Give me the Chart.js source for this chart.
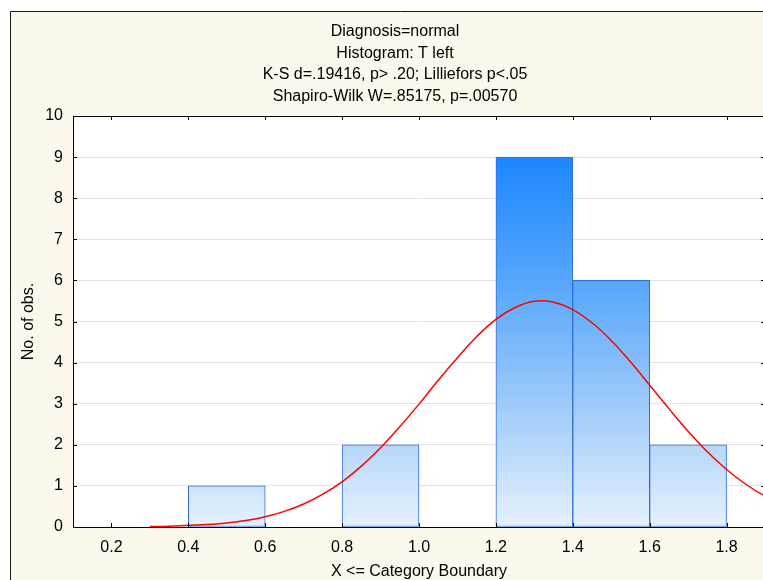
<!DOCTYPE html>
<html>
<head>
<meta charset="utf-8">
<script src="https://cdn.jsdelivr.net/npm/chart.js@4"></script>
<style>
  body { margin: 0; overflow: hidden; background: #fff; }
  #wrap { position: relative; width: 790px; height: 580px; }
</style>
</head>
<body>
<div id="wrap"><canvas id="histChart" width="790" height="580"></canvas></div>
<script>
// histogram bins (centre of each 0.2 wide class) and counts
const binCenters = [0.5, 0.9, 1.3, 1.5, 1.7];
const binCounts = [1, 2, 9, 6, 2];

// fitted normal curve
const curveX = [0.30, 0.35, 0.40, 0.45, 0.50, 0.55, 0.60, 0.65, 0.70, 0.75, 0.80, 0.85, 0.90, 0.95,
                1.00, 1.05, 1.10, 1.15, 1.20, 1.25, 1.30, 1.35, 1.40, 1.45, 1.50, 1.55, 1.60, 1.65,
                1.70, 1.75, 1.80, 1.85, 1.90, 1.95, 2.00];
const curveY = [0.01, 0.02, 0.04, 0.06, 0.10, 0.16, 0.25, 0.38, 0.56, 0.80, 1.10, 1.48, 1.93, 2.44,
                2.99, 3.57, 4.12, 4.63, 5.05, 5.34, 5.49, 5.47, 5.29, 4.97, 4.54, 4.02, 3.45, 2.88,
                2.33, 1.83, 1.40, 1.04, 0.75, 0.52, 0.35];

const xTickValues = [0.2, 0.4, 0.6, 0.8, 1.0, 1.2, 1.4, 1.6, 1.8];
const yTickValues = [0, 1, 2, 3, 4, 5, 6, 7, 8, 9, 10];

const titleLines = [
    'Diagnosis=normal',
    'Histogram: T left',
    'K-S d=.19416, p> .20; Lilliefors p<.05',
    'Shapiro-Wilk W=.85175, p=.00570'
];

const fontFamily = "'Liberation Sans', Arial, sans-serif";
const fontSize = 16;

// frame, cream background, title, plot border and inward ticks
const framePlugin = {
    id: 'frame',
    beforeDraw(chart) {
        const c = chart.ctx;
        const a = chart.chartArea;
        c.save();
        c.fillStyle = '#ffffff';
        c.fillRect(0, 0, chart.width, chart.height);
        c.fillStyle = '#fdf8ed';
        c.fillRect(10, 11, chart.width, chart.height);
        c.strokeStyle = '#1a1a1a';
        c.lineWidth = 1;
        c.beginPath();
        c.moveTo(10.5, chart.height);
        c.lineTo(10.5, 11.5);
        c.lineTo(chart.width, 11.5);
        c.stroke();
        c.fillStyle = '#ffffff';
        c.fillRect(a.left, a.top, a.right - a.left, a.bottom - a.top);

        // title block, centred on the whole graph window
        c.fillStyle = '#000';
        c.font = fontSize + 'px ' + fontFamily;
        c.textAlign = 'center';
        c.textBaseline = 'middle';
        titleLines.forEach((line, i) => {
            c.fillText(line, 395, 31.5 + i * 21.6);
        });
        c.restore();
    },
    afterDraw(chart) {
        const c = chart.ctx;
        const a = chart.chartArea;
        const xs = chart.scales.x;
        const ys = chart.scales.y;
        c.save();
        c.strokeStyle = '#000';
        c.lineWidth = 1;
        c.strokeRect(Math.round(a.left) + 0.5, Math.round(a.top) + 0.5,
            Math.round(a.right - a.left), Math.round(a.bottom - a.top));
        c.beginPath();
        yTickValues.forEach(v => {
            const py = Math.round(ys.getPixelForValue(v)) + 0.5;
            c.moveTo(a.left, py); c.lineTo(a.left + 4, py);
            c.moveTo(a.right - 4, py); c.lineTo(a.right, py);
        });
        xTickValues.forEach(v => {
            const px = Math.round(xs.getPixelForValue(v)) + 0.5;
            c.moveTo(px, a.bottom); c.lineTo(px, a.bottom - 4);
            c.moveTo(px, a.top); c.lineTo(px, a.top + 4);
        });
        c.stroke();
        c.restore();
    }
};

function barGradient(context) {
    const chart = context.chart;
    const a = chart.chartArea;
    if (!a) return '#8ec3fb';
    const g = chart.ctx.createLinearGradient(0, a.top, 0, a.bottom);
    g.addColorStop(0, '#0a7cff');
    g.addColorStop(0.1, '#1c86ff');
    g.addColorStop(0.42, '#5aa8fb');
    g.addColorStop(0.8, '#b6d7fa');
    g.addColorStop(1, '#e6f1fd');
    return g;
}

const ctx = document.getElementById('histChart').getContext('2d');
const histChart = new Chart(ctx, {
    type: 'bar',
    data: {
        datasets: [
            {
                type: 'line',
                data: curveX.map((x, i) => ({ x: x, y: curveY[i] })),
                borderColor: '#ff0000',
                borderWidth: 1.5,
                pointRadius: 0,
                tension: 0.4,
                fill: false,
                order: 0
            },
            {
                type: 'bar',
                data: binCenters.map((x, i) => ({ x: x, y: binCounts[i] })),
                backgroundColor: barGradient,
                borderColor: '#2f6fdc',
                borderWidth: 1,
                borderSkipped: false,
                barPercentage: 1,
                categoryPercentage: 1,
                order: 1
            }
        ]
    },
    options: {
        responsive: false,
        animation: false,
        devicePixelRatio: 1,
        layout: { padding: { left: 0, top: 116, right: 25, bottom: 0 } },
        plugins: {
            legend: { display: false },
            tooltip: { enabled: false },
            title: { display: false }
        },
        scales: {
            x: {
                type: 'linear',
                min: 0.1,
                max: 1.9,
                offset: false,
                afterFit: scale => { scale.height = 53; },
                afterBuildTicks: scale => { scale.ticks = xTickValues.map(v => ({ value: v })); },
                ticks: {
                    color: '#000',
                    padding: 11,
                    maxRotation: 0,
                    autoSkip: false,
                    font: { family: fontFamily, size: fontSize },
                    callback: v => Number(v).toFixed(1)
                },
                grid: { offset: false, drawOnChartArea: false, drawTicks: false },
                border: { display: true, color: '#000' },
                title: {
                    display: true,
                    text: 'X <= Category Boundary',
                    color: '#000',
                    font: { family: fontFamily, size: fontSize, lineHeight: 1 },
                    padding: { top: 0, bottom: 0 }
                }
            },
            y: {
                min: 0,
                max: 10,
                afterFit: scale => { scale.width = 73; },
                ticks: {
                    stepSize: 1,
                    color: '#000',
                    padding: 10,
                    font: { family: fontFamily, size: fontSize }
                },
                grid: { color: '#e3e3e3', drawTicks: false },
                border: { display: true, color: '#000' },
                title: {
                    display: true,
                    text: 'No. of obs.',
                    color: '#000',
                    font: { family: fontFamily, size: fontSize, lineHeight: 1.2 },
                    padding: { top: 19, bottom: 0 }
                }
            }
        }
    },
    plugins: [framePlugin]
});
</script>
</body>
</html>
